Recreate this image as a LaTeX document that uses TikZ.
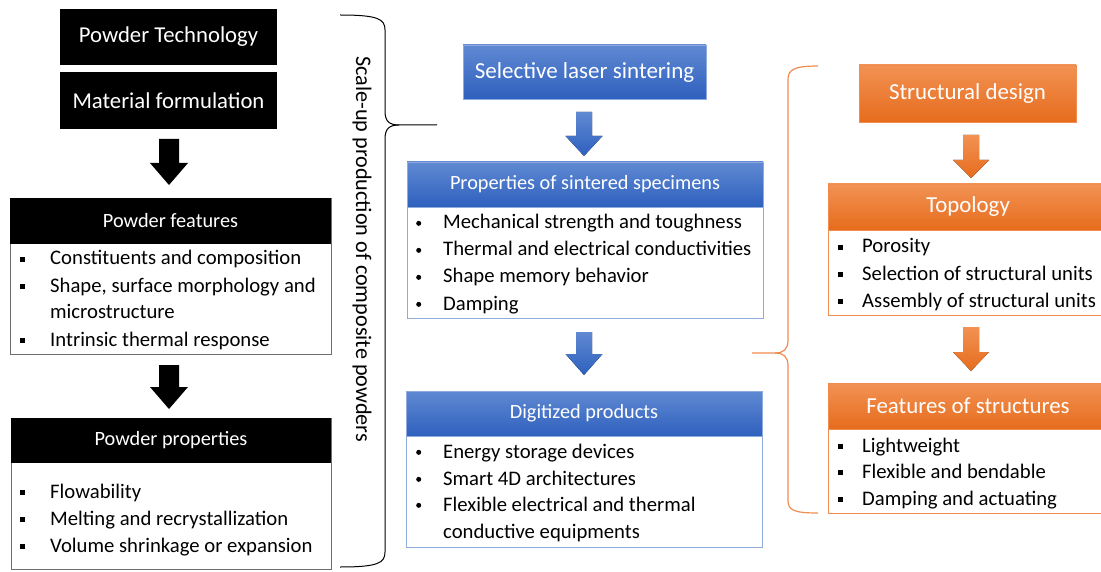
\documentclass[tikz,border=0pt]{standalone}
\usepackage{fontspec}
\setmainfont{Carlito}
\usetikzlibrary{calc}
\definecolor{bluetop}{RGB}{96,137,210}
\definecolor{bluebot}{RGB}{46,96,190}
\definecolor{blueedge}{RGB}{143,170,220}
\definecolor{ortop}{RGB}{242,146,84}
\definecolor{orbot}{RGB}{230,108,28}
\definecolor{oredge}{RGB}{240,140,80}
\definecolor{grayedge}{RGB}{110,110,110}
\newcommand\sqb{\raisebox{0.28ex}{\rule{5pt}{5pt}}}
\newcommand\rdb{\raisebox{0.32ex}{\tikz\fill (0,0) circle (2.5pt);}}
\newcommand\itemsq[1]{\makebox[30pt][l]{\sqb}#1}
\newcommand\itemrd[1]{\makebox[27pt][l]{\rdb}#1}
\newcommand\itemor[1]{\makebox[24pt][l]{\sqb}#1}
\begin{document}
\begin{tikzpicture}[x=1pt,y=-1pt,
  ttl/.style={inner sep=0pt,text=white,font=\fontsize{22.7}{26}\selectfont},
  hdr/.style={inner sep=0pt,text=white,font=\fontsize{20.3}{24}\selectfont},
  ohdr/.style={inner sep=0pt,text=white,font=\fontsize{22.9}{26}\selectfont},
  blkfill/.style={fill=black},
  bluefill/.style={top color=bluetop,bottom color=bluebot,draw=blueedge,line width=0.6pt},
  orfill/.style={top color=ortop,bottom color=orbot,draw=oredge,line width=0.6pt},
  blkbody/.style={draw=grayedge,fill=white,line width=0.8pt,inner sep=0pt},
  bluebody/.style={draw=blueedge,fill=white,line width=0.8pt,inner sep=0pt},
  orbody/.style={draw=oredge,fill=white,line width=0.8pt,inner sep=0pt},
  itm/.style={anchor=base west,inner sep=0pt,font=\fontsize{20.7}{27}\selectfont},
  blkarrow/.style={fill=black},
  bluearrow/.style={top color=bluetop,bottom color=bluebot},
  orarrow/.style={top color=ortop,bottom color=orbot},
  bracestyle/.style={line width=1pt,line join=round}
]
\useasboundingbox (0,0) rectangle (1101,572);
\fill[white] (0,0) rectangle (1101,572);

% ---------- Left column ----------
\node[ttl,blkfill,minimum width=217pt,minimum height=56pt] (pt) at (168.5,37) {Powder Technology};
\node[ttl,blkfill,minimum width=217pt,minimum height=57pt] (mf) at (168.5,100.5) {Material formulation};

\node[blkbody,minimum width=321pt,minimum height=156pt] (pfb) at (170.5,276) {};
\node[hdr,blkfill,minimum width=321pt,minimum height=46pt] (pfh) at (170.5,221) {Powder features};
\node[itm] (pf1) at (20,265) {\itemsq{Constituents and composition}};
\node[itm] (pf2) at (20,292) {\itemsq{Shape, surface morphology and}};
\node[itm] (pf3) at (50,319) {microstructure};
\node[itm] (pf4) at (20,346) {\itemsq{Intrinsic thermal response}};

\node[blkbody,minimum width=320pt,minimum height=151pt] (ppb) at (171,493.5) {};
\node[hdr,blkfill,minimum width=320pt,minimum height=45pt] (pph) at (171,440.5) {Powder properties};
\node[itm] (pp1) at (20,498) {\itemsq{Flowability}};
\node[itm] (pp2) at (20,525) {\itemsq{Melting and recrystallization}};
\node[itm] (pp3) at (20,552) {\itemsq{Volume shrinkage or expansion}};

% black arrows
\fill[blkarrow] (159,139) -- (179,139) -- (179,163) -- (188,163) -- (169,185) -- (150,163) -- (159,163) -- cycle;
\fill[blkarrow] (159,365) -- (179,365) -- (179,387) -- (188,387) -- (169,409) -- (150,387) -- (159,387) -- cycle;

% black brace
\coordinate (btip) at (437,125);
\draw[bracestyle] (btip) -- (399,125) .. controls (389,125) and (385,121) .. (385,111) -- (385,30) .. controls (385,19) and (378,15) .. (340,15);
\draw[bracestyle] (399,125) .. controls (389,125) and (385,129) .. (385,139) -- (385,552) .. controls (385,563) and (378,567) .. (340,567);
\node[rotate=-90,inner sep=0pt,font=\fontsize{22.2}{26}\selectfont] (scale) at (362,249) {Scale-up production of composite powders};

% ---------- Middle column ----------
\node[ttl,bluefill,minimum width=243pt,minimum height=54pt,font=\fontsize{23}{26}\selectfont] (sls) at (584.5,72) {Selective laser sintering};

\node[bluebody,minimum width=356pt,minimum height=156pt] (psb) at (585,240) {};
\node[hdr,bluefill,minimum width=356pt,minimum height=45pt] (psh) at (585,184.5) {Properties of sintered specimens};
\node[itm] (ps1) at (416,229) {\itemrd{Mechanical strength and toughness}};
\node[itm] (ps2) at (416,256) {\itemrd{Thermal and electrical conductivities}};
\node[itm] (ps3) at (416,283) {\itemrd{Shape memory behavior}};
\node[itm] (ps4) at (416,310) {\itemrd{Damping}};

\node[bluebody,minimum width=356pt,minimum height=156pt] (dpb) at (584,469) {};
\node[hdr,bluefill,minimum width=356pt,minimum height=45pt] (dph) at (584,413.5) {Digitized products};
\node[itm] (dp1) at (416,458) {\itemrd{Energy storage devices}};
\node[itm] (dp2) at (416,485) {\itemrd{Smart 4D architectures}};
\node[itm] (dp3) at (416,511) {\itemrd{Flexible electrical and thermal}};
\node[itm] (dp4) at (443,538) {conductive equipments};

% blue arrows
\fill[bluearrow] (576,112) -- (592,112) -- (592,136) -- (602.5,136) -- (584,156) -- (565.5,136) -- (576,136) -- cycle;
\fill[bluearrow] (576,332) -- (592,332) -- (592,354) -- (602.5,354) -- (584,375) -- (565.5,354) -- (576,354) -- cycle;

% ---------- Right column ----------
\node[ohdr,orfill,minimum width=217pt,minimum height=57pt] (sd) at (967.5,93.5) {Structural design};

\node[orbody,minimum width=280pt,minimum height=131pt] (tpb) at (968,249.5) {};
\node[ohdr,orfill,minimum width=280pt,minimum height=46pt] (tph) at (968,207) {Topology};
\node[itm] (tp1) at (838,253) {\itemor{Porosity}};
\node[itm] (tp2) at (838,280) {\itemor{Selection of structural units}};
\node[itm] (tp3) at (838,307) {\itemor{Assembly of structural units}};

\node[orbody,minimum width=280pt,minimum height=130pt] (fsb) at (968,448) {};
\node[ohdr,orfill,minimum width=280pt,minimum height=46pt] (fsh) at (968,406) {Features of structures};
\node[itm] (fs1) at (838,452) {\itemor{Lightweight}};
\node[itm] (fs2) at (838,478) {\itemor{Flexible and bendable}};
\node[itm] (fs3) at (838,505) {\itemor{Damping and actuating}};

% orange arrows
\fill[orarrow] (963,135) -- (979,135) -- (979,160) -- (989,160) -- (971,178) -- (953,160) -- (963,160) -- cycle;
\fill[orarrow] (963,327) -- (979,327) -- (979,352) -- (989,352) -- (971,371) -- (953,352) -- (963,352) -- cycle;

% orange brace
\coordinate (otip) at (752,353);
\draw[bracestyle,draw=oredge,line width=1.2pt] (otip) -- (775,353) .. controls (784,353) and (788,349) .. (788,340) -- (788,80) .. controls (788,70) and (793,66) .. (818,66);
\draw[bracestyle,draw=oredge,line width=1.2pt] (775,353) .. controls (784,353) and (788,357) .. (788,366) -- (788,500) .. controls (788,510) and (793,513) .. (818,513);
\end{tikzpicture}
\end{document}
